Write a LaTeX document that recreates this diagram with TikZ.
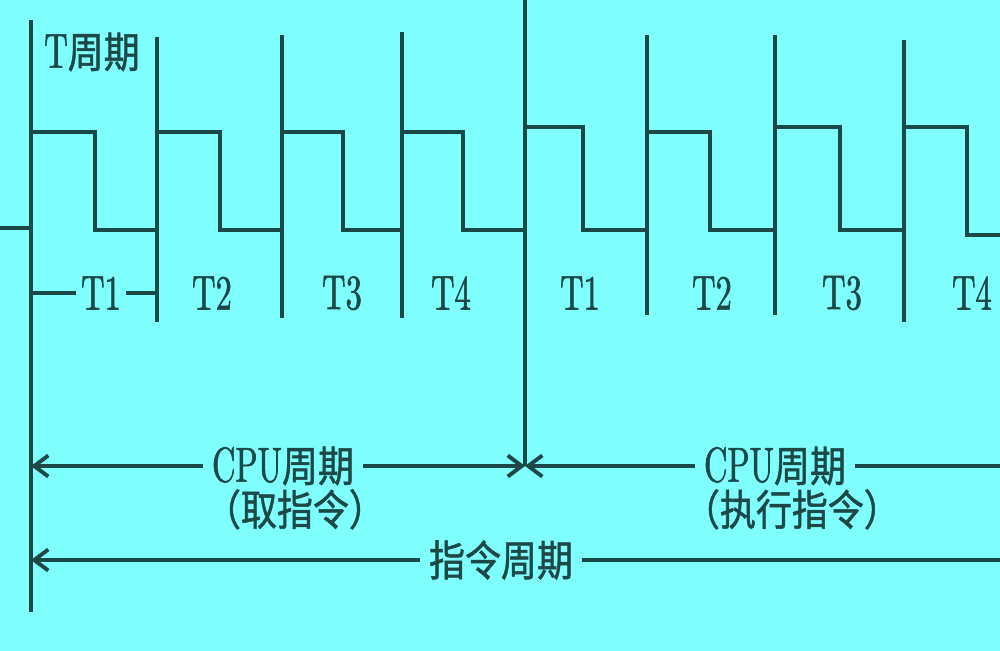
\documentclass[tikz,border=0pt]{standalone}
\usepackage{fontspec}
\newfontfamily\lmnarrow{lmroman10-regular.otf}[FakeStretch=0.66,FakeBold=1.2]
\newfontfamily\cjk{Noto Sans CJK SC}[Scale=0.86,FakeStretch=0.85,FakeBold=1.2]
\usetikzlibrary{arrows.meta,positioning}
\definecolor{bgcyan}{RGB}{128,255,255}
\definecolor{ink}{RGB}{28,72,72}

\begin{document}
\begin{tikzpicture}[x = 0.02cm, y = -0.02cm, line width = 2.2pt, color = ink,
        lbl/.style = {font = \fontsize{28}{32}\selectfont\lmnarrow, text = ink, inner sep = 4pt},
        barb/.style = {-{Straight Barb[length = 8pt, width = 12pt]}}]
            \fill [bgcyan] (0, 0) rectangle (1000, 651);
            \useasboundingbox (0, 0) rectangle (1000, 651);
            % cycle markers
            \draw (31, 20) -- (31, 612);
            \draw (157, 37) -- (157, 322);
            \draw (282, 35) -- (282, 318);
            \draw (402, 32) -- (402, 318);
            \draw (525, 0) -- (525, 466);
            \draw (647, 35) -- (647, 315);
            \draw (775, 35) -- (775, 315);
            \draw (904, 40) -- (904, 322);
            % clock
            \draw (0, 228) -- (31, 228) -- (31, 132) -- (95, 132) -- (95, 230) -- (157, 230)
                -- (157, 132) -- (220, 132) -- (220, 230) -- (282, 230)
                -- (282, 132) -- (343, 132) -- (343, 230) -- (402, 230)
                -- (402, 132) -- (463, 132) -- (463, 230) -- (525, 230)
                -- (525, 127) -- (583, 127) -- (583, 230) -- (647, 230)
                -- (647, 132) -- (710, 132) -- (710, 230) -- (775, 230)
                -- (775, 127) -- (840, 127) -- (840, 230) -- (904, 230)
                -- (904, 127) -- (967, 127) -- (967, 235) -- (1000, 235);
            \node [lbl] (tcyc) at (92, 52) {T{\cjk 周期}};
            % states
            \coordinate (ta1L) at (31, 293);
            \coordinate (ta1R) at (157, 293);
            \node [lbl, inner sep = 2pt] (ta1) at (101, 293) {T1};
            \draw (ta1L) -- (ta1);
            \draw (ta1) -- (ta1R);
            \node [lbl] (ta2) at (212, 293) {T2};
            \node [lbl] (ta3) at (342, 293) {T3};
            \node [lbl] (ta4) at (451, 293) {T4};
            \node [lbl] (tb1) at (580, 293) {T1};
            \node [lbl] (tb2) at (712, 293) {T2};
            \node [lbl] (tb3) at (842, 293) {T3};
            \node [lbl] (tb4) at (972, 293) {T4};
            % cpu cycles
            \coordinate (cpuL) at (31, 466);
            \coordinate (cpuM) at (525, 466);
            \coordinate (cpuR) at (1000, 466);
            \node [lbl] (cpu1) at (283, 466) {CPU{\cjk 周期}};
            \node [lbl, below = -8pt of cpu1, xshift = 6.8pt] (fetch) {{\cjk （取指令）}};
            \node [lbl] (cpu2) at (775, 466) {CPU{\cjk 周期}};
            \node [lbl, below = -8pt of cpu2, xshift = 9.6pt] (exec) {{\cjk （执行指令）}};
            \draw [barb] (cpu1) -- (cpuL);
            \draw [barb] (cpu1) -- (cpuM);
            \draw [barb] (cpu2) -- (cpuM);
            \draw (cpu2) -- (cpuR);
            % instruction cycle
            \coordinate (instrL) at (31, 560);
            \coordinate (instrR) at (1000, 560);
            \node [lbl] (instr) at (501, 560) {{\cjk 指令周期}};
            \draw [barb] (instr) -- (instrL);
            \draw (instr) -- (instrR);
        \end{tikzpicture}
\end{document}
